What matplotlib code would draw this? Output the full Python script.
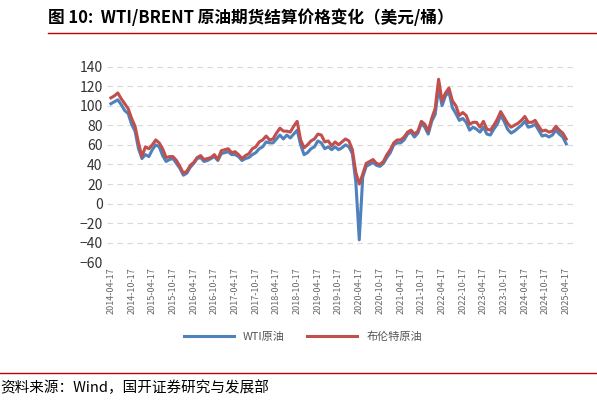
import numpy as np
import matplotlib.pyplot as plt

plt.rcParams['font.family'] = ['Noto Sans CJK SC', 'DejaVu Sans']

# monthly settlement prices, 2014-04 .. 2025-04
brent = [108, 110, 113, 107, 102, 97, 87, 79, 62,
         48, 58, 56, 60, 65, 62, 56, 47, 48, 48, 44, 38,
         31, 33, 39, 42, 47, 49, 45, 46, 47, 50, 45, 54,
         55, 56, 52, 53, 50, 46, 49, 51, 56, 58, 63, 65,
         69, 65, 66, 72, 77, 74, 74, 73, 79, 84, 65, 57,
         60, 64, 66, 71, 70, 63, 64, 59, 63, 60, 63, 66,
         64, 55, 32, 20, 30, 41, 43, 45, 41, 40, 43, 50,
         55, 62, 65, 65, 68, 73, 75, 71, 74, 84, 81, 74,
         87, 97, 127, 105, 113, 118, 105, 100, 90, 93, 90, 81,
         83, 83, 78, 84, 76, 75, 80, 86, 94, 88, 82, 78,
         80, 82, 85, 89, 83, 83, 85, 79, 74, 75, 73, 74,
         79, 75, 72, 66]
wti = [102, 104, 106, 101, 95, 92, 81, 74, 56,
       46, 50, 48, 55, 60, 58, 49, 43, 45, 46, 41, 36,
       29, 31, 37, 41, 46, 47, 43, 44, 46, 48, 44, 51,
       52, 53, 50, 50, 48, 44, 46, 47, 50, 52, 56, 58,
       63, 62, 62, 66, 70, 66, 70, 67, 71, 75, 60, 50,
       52, 56, 58, 64, 62, 56, 58, 55, 58, 55, 57, 60,
       58, 51, 22, -37, 27, 38, 40, 42, 39, 38, 41, 47,
       52, 60, 62, 62, 65, 71, 73, 68, 72, 82, 78, 71,
       84, 91, 118, 100, 110, 114, 98, 92, 85, 87, 83, 75,
       78, 76, 73, 78, 71, 70, 76, 81, 90, 84, 76, 72,
       74, 77, 80, 84, 78, 79, 81, 75, 69, 70, 68, 70,
       75, 71, 68, 61]
tick_labels = [f"{y}-{m}-17" for y in range(2014, 2026) for m in ("04", "10")][:23]

fig = plt.figure(figsize=(5.97, 4.08), dpi=100)
ax = fig.add_axes([0.18, 0.357, 0.78, 0.48])

x = np.arange(len(brent))
ax.plot(x, wti, color="#4f81bd", lw=2.2, label="WTI原油")
ax.plot(x, brent, color="#c0504d", lw=2.2, label="布伦特原油")

ax.set_ylim(-60, 140)
ax.set_yticks(range(-60, 141, 20))
ax.set_xlim(-1, len(brent) + 1)
ax.set_xticks(range(0, len(brent), 6))
ax.set_xticklabels(tick_labels, rotation=90, fontsize=6.5, color="#666666")
ax.tick_params(axis="y", labelsize=10, colors="#333333", length=0)
ax.tick_params(axis="x", length=0)
ax.grid(axis="y", color="#d9d9d9", ls=(0, (5, 4)), lw=0.8)
for s in ax.spines.values():
    s.set_visible(False)

ax.legend(loc="upper center", bbox_to_anchor=(0.42, -0.3), ncol=2, frameon=False,
          fontsize=8, handlelength=4.5, labelcolor="#555555")

fig.text(0.08, 0.955, "图 10:  WTI/BRENT 原油期货结算价格变化（美元/桶）",
         fontsize=12, fontweight="bold", va="center")
fig.add_artist(plt.Line2D([0.08, 1.0], [0.918, 0.918], color="#c00000", lw=1))
fig.add_artist(plt.Line2D([0.0, 1.0], [0.087, 0.087], color="#c00000", lw=1))
fig.text(0.0, 0.05, "资料来源：Wind，国开证券研究与发展部", fontsize=10.5, va="center")

fig.savefig("out.png", dpi=100)
